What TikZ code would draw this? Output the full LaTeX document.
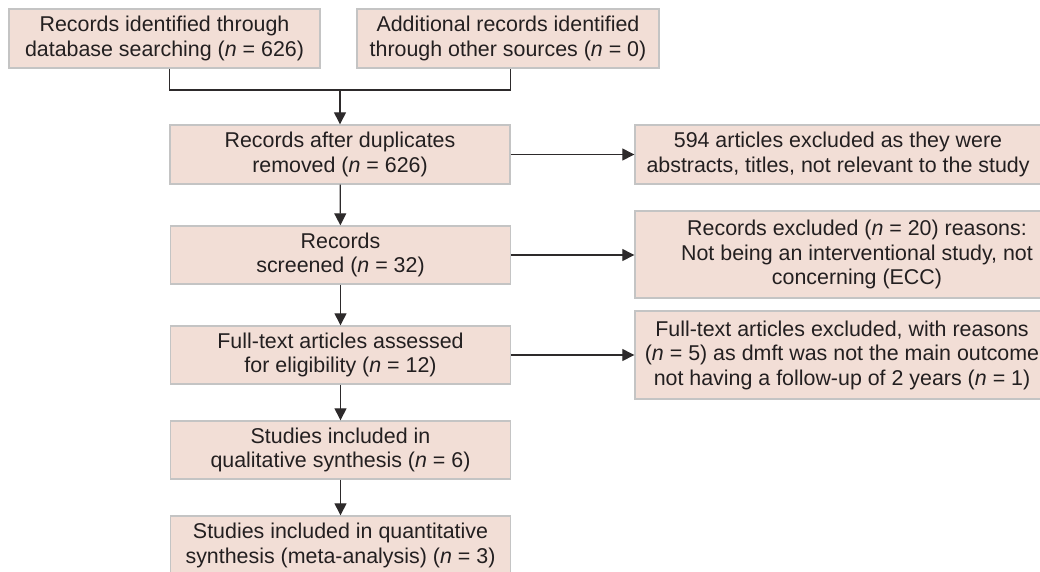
\documentclass[tikz,border=0pt]{standalone}
\usepackage{fontspec}
\setmainfont{Liberation Sans}
\usetikzlibrary{arrows.meta}
\definecolor{boxfill}{RGB}{242,222,214}
\definecolor{boxline}{RGB}{196,196,196}
\definecolor{lineclr}{RGB}{45,42,43}
\definecolor{txtclr}{RGB}{35,31,32}
\tikzset{
  box/.style={draw=boxline, line width=1.4pt, fill=boxfill, inner sep=0pt, anchor=center,
              text=txtclr, align=center, font=\fontsize{21.4}{24.5}\selectfont},
  txt/.style={inner sep=0pt, text=txtclr, align=center, font=\fontsize{21.4}{24.5}\selectfont},
  conn/.style={draw=lineclr, line width=1.3pt},
  arr/.style={conn, -{Triangle[length=12pt,width=12pt]}}
}
\begin{document}
\begin{tikzpicture}[x=1pt,y=-1pt]
\useasboundingbox (0,0) rectangle (1040,571);
% left column
\node[box, minimum width=311pt, minimum height=59pt] (A) at (164.5,38.5)
  {Records identified through\\database searching (\textit{n} = 626)};
\node[box, minimum width=302pt, minimum height=59pt] (B) at (508,38.5)
  {Additional records identified\\through other sources (\textit{n} = 0)};
\node[box, minimum width=340pt, minimum height=59pt] (C) at (340,154.5)
  {Records after duplicates\\removed (\textit{n} = 626)};
\node[box, minimum width=340pt, minimum height=58pt] (D) at (340.5,255)
  {Records\\screened (\textit{n} = 32)};
\node[box, minimum width=340pt, minimum height=58pt] (E) at (340.5,355)
  {Full-text articles assessed\\for eligibility (\textit{n} = 12)};
\node[box, minimum width=340pt, minimum height=58pt] (F) at (340.5,450)
  {Studies included in\\qualitative synthesis (\textit{n} = 6)};
\node[box, minimum width=340pt, minimum height=59pt] (G) at (340.5,545.5)
  {Studies included in quantitative\\synthesis (meta-analysis) (\textit{n} = 3)};
% right column
\node[box, minimum width=410pt, minimum height=59pt] (R1) at (840,154.5) {};
\node[txt] (R1t) at (838,154.5)
  {594 articles excluded as they were\\abstracts, titles, not relevant to the study};
\node[box, minimum width=410pt, minimum height=87pt] (R2) at (840,254.5) {};
\node[txt] (R2t) at (857,254.5)
  {Records excluded (\textit{n} = 20) reasons:\\Not being an interventional study, not\\concerning (ECC)};
\node[box, minimum width=410pt, minimum height=88pt] (R3) at (840,355) {};
\node[txt] (R3t) at (842,355)
  {Full-text articles excluded, with reasons\\(\textit{n} = 5) as dmft was not the main outcome\\not having a follow-up of 2 years (\textit{n} = 1)};
% connectors
\coordinate (j) at (340,90);
\draw[conn] (A.south -| C.west) |- (j) -| (B.south -| C.east);
\draw[arr] (j) -- (C.north);
\draw[arr] (C) -- (D);
\draw[arr] (D) -- (E);
\draw[arr] (E) -- (F);
\draw[arr] (F) -- (G);
\draw[arr] (C.east) -- (C.east -| R1.west);
\draw[arr] (D.east) -- (D.east -| R2.west);
\draw[arr] (E.east) -- (E.east -| R3.west);
\end{tikzpicture}
\end{document}
